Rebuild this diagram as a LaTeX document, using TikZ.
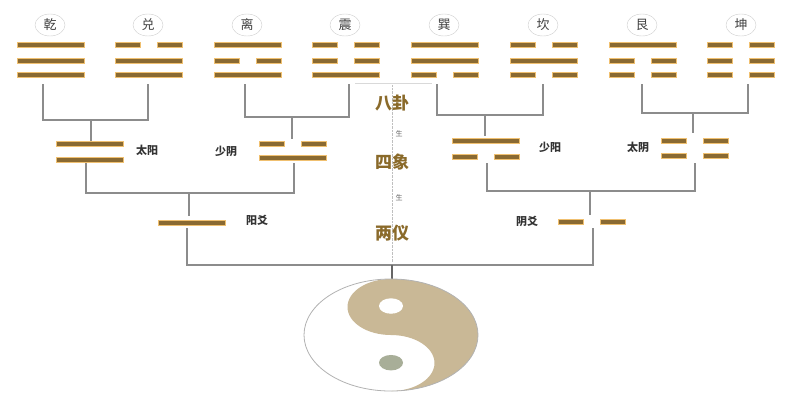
\documentclass[tikz,border=0pt]{standalone}
\usepackage{fontspec}
\newfontfamily\cjk{Noto Sans CJK SC}
\definecolor{barc}{HTML}{8A6A32}
\definecolor{bare}{HTML}{F0C070}
\definecolor{linec}{HTML}{8C8C8C}
\definecolor{goldt}{HTML}{8A6A2A}
\definecolor{tan}{HTML}{C9B896}
\definecolor{dotc}{HTML}{A8AE98}
\newcommand\yangbar[2]{\fill[barc,draw=bare,line width=0.8pt] (#1,#2-2.6) rectangle ++(67,5.2);}
\newcommand\yinbar[2]{\fill[barc,draw=bare,line width=0.8pt] (#1,#2-2.6) rectangle ++(25,5.2);\fill[barc,draw=bare,line width=0.8pt] (#1+42,#2-2.6) rectangle ++(25,5.2);}
\tikzset{conn/.style={linec,line width=1.6pt},
 lab/.style={font=\cjk\fontsize{11}{11}\selectfont\bfseries,text=black!80},
 gua/.style={font=\cjk\fontsize{13}{13}\selectfont,text=black!75,ellipse,draw=black!20,inner sep=1pt,minimum width=30pt,minimum height=22pt},
 big/.style={font=\cjk\fontsize{17}{17}\selectfont\bfseries,text=goldt},
 sheng/.style={font=\cjk\fontsize{7}{7}\selectfont,text=black!60}}
\usetikzlibrary{shapes.geometric}
\begin{document}
\begin{tikzpicture}[x=1pt,y=-1pt]
\useasboundingbox (0,0) rectangle (800,400);
% trigram labels
\foreach \n/\t/\x in {q/乾/50,d/兑/148,l/离/247,z/震/345,x/巽/444,k/坎/543,g/艮/642,kn/坤/741}
 \node[gua] (g\n) at (\x,25) {\t};
% trigrams: top, middle, bottom (1=yang,0=yin)
\foreach \x/\a/\b/\c in {17/1/1/1,115/0/1/1,214/1/0/1,312/0/0/1,411/1/1/0,510/0/1/0,609/1/0/0,707/0/0/0}{
 \ifnum\a=1 \yangbar{\x}{45}\else\yinbar{\x}{45}\fi
 \ifnum\b=1 \yangbar{\x}{61}\else\yinbar{\x}{61}\fi
 \ifnum\c=1 \yangbar{\x}{75}\else\yinbar{\x}{75}\fi
}
% connectors trigrams -> sixiang
\draw[conn] (43,84) |- (148,120) -- (148,84); \draw[conn] (91,120) -- (91,141);
\draw[conn] (245,84) |- (349,117) -- (349,84); \draw[conn] (292,117) -- (292,139);
\draw[conn] (437,84) |- (543,115) -- (543,84); \draw[conn] (485,115) -- (485,136);
\draw[conn] (642,84) |- (748,113) -- (748,84); \draw[conn] (693,113) -- (693,133);
% sixiang
\yangbar{56}{144}\yangbar{56}{160}
\node[lab] (tyang) at (147,150) {太阳};
\node[lab] (sy) at (226,151) {少阴};
\yinbar{259}{144}\yangbar{259}{158}
\yangbar{452}{141}\yinbar{452}{157}
\node[lab] (sya) at (550,147) {少阳};
\node[lab] (tyin) at (638,147) {太阴};
\yinbar{661}{141}\yinbar{661}{156}
% connectors sixiang -> liangyi
\draw[conn] (86,163) |- (294,193) -- (294,163); \draw[conn] (189,193) -- (189,216);
\draw[conn] (487,163) |- (695,191) -- (695,163); \draw[conn] (590,191) -- (590,215);
% liangyi
\yangbar{158}{223}
\node[lab] (yy) at (257,220) {阳爻};
\node[lab] (yn) at (527,221) {阴爻};
\yinbar{558}{222}
\draw[conn] (187,228) |- (593,265) -- (593,228);
% centre column
\draw[black!15,line width=0.8pt] (355,83) -- (432,83);
\draw[black!25,densely dotted] (392,85) -- (392,262);
\node[big] (bg) at (392,103) {八卦};
\node[sheng] (s1) at (399,134) {生};
\node[big] (sx) at (392,162) {四象};
\node[sheng] (s2) at (399,198) {生};
\node[big] (ly) at (392,233) {两仪};
\draw[conn,line width=1.2pt,black!60] (392,265) -- (392,279);
% taiji
\begin{scope}[shift={(391,335)},yscale=0.644]
 \fill[white] (0,0) circle[radius=87];
 \fill[tan] (0,-87) arc[start angle=-90,end angle=90,radius=87]
   arc[start angle=90,end angle=-90,radius=43.5]
   arc[start angle=90,end angle=270,radius=43.5] -- cycle;
 \draw[black!30,line width=0.8pt] (0,0) circle[radius=87];
 \fill[white] (0,-45) circle[radius=12];
 \fill[dotc] (0,43) circle[radius=12];
\end{scope}
\end{tikzpicture}
\end{document}
